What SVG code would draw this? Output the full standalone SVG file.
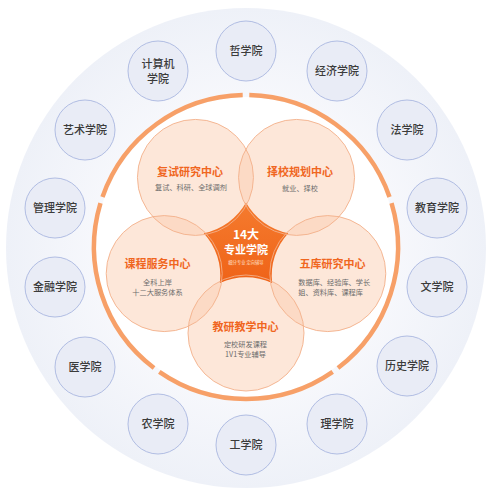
<svg xmlns="http://www.w3.org/2000/svg" width="489" height="490" viewBox="0 0 489 490">
<defs>
<radialGradient id="bgGrad" cx="246" cy="248" r="240" gradientUnits="userSpaceOnUse">
<stop offset="0.6" stop-color="#f7f8fc"/>
<stop offset="1" stop-color="#eef1f8"/>
</radialGradient>
<linearGradient id="starGrad" x1="0" y1="0" x2="0" y2="1">
<stop offset="0" stop-color="#f57b2e"/>
<stop offset="1" stop-color="#ef6318"/>
</linearGradient>
<style>
.node circle{fill:#e9ecf6;stroke:#a9b7e0;stroke-width:0.9}
.node text{font-family:"Noto Sans CJK SC","Noto Sans",sans-serif;font-size:11px;fill:#3b3b3b;text-anchor:middle;font-weight:500}
.petal-fill{fill:#fbcdb0;fill-opacity:0.48}
.petal-line{fill:none;stroke:#f3b08a;stroke-width:0.9}
.ptitle{font-family:"Noto Sans CJK SC","Noto Sans",sans-serif;font-size:11px;font-weight:700;fill:#f0661f;text-anchor:middle}
.psub{font-family:"Noto Sans CJK SC","Noto Sans",sans-serif;font-size:7.2px;fill:#6b6b6b;text-anchor:middle}
.ring path{fill:none;stroke:#f7a068;stroke-width:4.5}
</style>
</defs>
<rect width="489" height="490" fill="#ffffff"/>
<circle cx="246" cy="248" r="240" fill="url(#bgGrad)"/>
<circle cx="246" cy="247" r="150" fill="#ffffff"/>
<g id="ring" class="ring">
<path d="M249.29,95.03 A152,152 0 0 1 389.51,196.91"/>
<path d="M391.54,203.17 A152,152 0 0 1 337.98,368.01"/>
<path d="M332.67,371.87 A152,152 0 0 1 159.33,371.87"/>
<path d="M154.02,368.01 A152,152 0 0 1 100.46,203.17"/>
<path d="M102.49,196.91 A152,152 0 0 1 242.71,95.03"/>
</g>
<g id="connectors"></g>
<g id="petals">
<circle class="petal-fill" cx="195.45" cy="177.42" r="58"/>
<circle class="petal-fill" cx="296.55" cy="177.42" r="58"/>
<circle class="petal-fill" cx="327.79" cy="273.58" r="58"/>
<circle class="petal-fill" cx="246" cy="333" r="58"/>
<circle class="petal-fill" cx="164.21" cy="273.58" r="58"/>
</g>
<g id="center">
<path d="M246,202.57 A62.6,62.6 0 0 0 288.26,233.27 A62.6,62.6 0 0 0 272.11,282.94 A62.6,62.6 0 0 0 219.89,282.94 A62.6,62.6 0 0 0 203.74,233.27 A62.6,62.6 0 0 0 246,202.57 Z" fill="url(#starGrad)"/>
</g>
<g id="petal-lines">
<circle class="petal-line" cx="195.45" cy="177.42" r="58"/>
<circle class="petal-line" cx="296.55" cy="177.42" r="58"/>
<circle class="petal-line" cx="327.79" cy="273.58" r="58"/>
<circle class="petal-line" cx="246" cy="333" r="58"/>
<circle class="petal-line" cx="164.21" cy="273.58" r="58"/>
</g>
<g id="center-text" font-family="'Noto Sans CJK SC','Noto Sans',sans-serif" text-anchor="middle">
<text x="246" y="238.5" font-size="12" font-weight="700" fill="#ffffff">14大</text>
<text x="246" y="254" font-size="11" font-weight="700" fill="#ffffff">专业学院</text>
<text x="246" y="264" font-size="4.3" fill="#ffe1cc">细分专业 定向辅导</text>
</g>
<g id="fushi">
<text class="ptitle" x="190" y="175.8">复试研究中心</text>
<text class="psub" x="191" y="190.3">复试、科研、全球调剂</text>
</g>
<g id="zexiao">
<text class="ptitle" x="300" y="175.8">择校规划中心</text>
<text class="psub" x="300" y="191.3">就业、择校</text>
</g>
<g id="kecheng">
<text class="ptitle" x="157.5" y="267.9">课程服务中心</text>
<text class="psub" x="157.5" y="284.5">全科上岸</text>
<text class="psub" x="157.5" y="294.5">十二大服务体系</text>
</g>
<g id="wuku">
<text class="ptitle" x="332.5" y="267.9">五库研究中心</text>
<text class="psub" x="298.3" y="284.5" style="text-anchor:start">数据库、经验库、学长</text>
<text class="psub" x="298.3" y="294.5" style="text-anchor:start">姐、资料库、课程库</text>
</g>
<g id="jiaoyan">
<text class="ptitle" x="245.5" y="330.9">教研教学中心</text>
<text class="psub" x="245.5" y="346.5">定校研发课程</text>
<text class="psub" x="245.5" y="356.5">1V1专业辅导</text>
</g>
<g id="zhexue" class="node"><circle cx="246" cy="51" r="30"/><text x="246" y="55">哲学院</text></g>
<g id="jingji" class="node"><circle cx="337" cy="71" r="30"/><text x="337" y="75">经济学院</text></g>
<g id="faxue" class="node"><circle cx="407" cy="130" r="30"/><text x="407" y="134">法学院</text></g>
<g id="jiaoyu" class="node"><circle cx="437" cy="208" r="30"/><text x="437" y="212">教育学院</text></g>
<g id="wenxue" class="node"><circle cx="437" cy="287" r="30"/><text x="437" y="291">文学院</text></g>
<g id="lishi" class="node"><circle cx="407" cy="366" r="30"/><text x="407" y="370">历史学院</text></g>
<g id="lixue" class="node"><circle cx="337" cy="424" r="30"/><text x="337" y="428">理学院</text></g>
<g id="gongxue" class="node"><circle cx="246" cy="445" r="30"/><text x="246" y="449">工学院</text></g>
<g id="nongxue" class="node"><circle cx="158" cy="424" r="30"/><text x="158" y="428">农学院</text></g>
<g id="yixue" class="node"><circle cx="85" cy="367" r="30"/><text x="85" y="371">医学院</text></g>
<g id="jinrong" class="node"><circle cx="55" cy="287" r="30"/><text x="55" y="291">金融学院</text></g>
<g id="guanli" class="node"><circle cx="55" cy="208" r="30"/><text x="55" y="212">管理学院</text></g>
<g id="yishu" class="node"><circle cx="85" cy="130" r="30"/><text x="85" y="134">艺术学院</text></g>
<g id="jisuanji" class="node"><circle cx="158" cy="71" r="30"/><text x="158" y="68">计算机</text><text x="158" y="83">学院</text></g>
</svg>
